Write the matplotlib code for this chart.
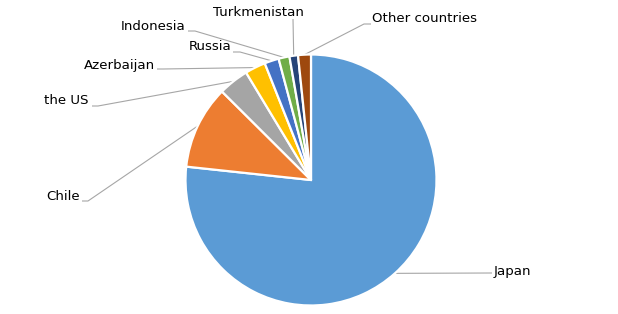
import numpy as np
import matplotlib
matplotlib.use("Agg")
import matplotlib.pyplot as plt

# share of each country (percent)
countries = ["Japan", "Chile", "the US", "Azerbaijan", "Russia",
             "Indonesia", "Turkmenistan", "Other countries"]
shares = [76.7, 10.75, 3.9, 2.65, 1.85, 1.4, 1.1, 1.65]
colors = ["#5B9BD5", "#ED7D31", "#A5A5A5", "#FFC000", "#4472C4",
          "#70AD47", "#264478", "#9E480E"]

W, H = 618, 314
CX, CY, R = 311, 180, 125.5


def px(x, y):
    # pixel position -> data coords (pie centre at 0,0, radius 1)
    return (x - CX) / R, (CY - y) / R


# label layout in pixels: (stub start, stub end, text pos, ha)
layout = {
    "Japan": ((492, 273), (492, 273), (494, 272), "left"),
    "Chile": ((88, 201), (82, 201), (80, 196), "right"),
    "the US": ((98, 106), (92, 106), (89, 101), "right"),
    "Azerbaijan": ((163, 69), (157, 69), (155, 65), "right"),
    "Russia": ((240, 52), (233, 52), (231, 47), "right"),
    "Indonesia": ((195, 31), (188, 31), (186, 26), "right"),
    "Turkmenistan": ((293, 19), (293, 19), (258, 12), "center"),
    "Other countries": ((364, 24), (371, 24), (372, 19), "left"),
}

fig = plt.figure(figsize=(W / 100, H / 100), dpi=100)
ax = fig.add_axes([0, 0, 1, 1])

wedges, _ = ax.pie(shares, colors=colors, startangle=90, counterclock=False,
                   radius=1, center=(0, 0), frame=True,
                   wedgeprops=dict(edgecolor="white", linewidth=1.6))

for w, name in zip(wedges, countries):
    mid = np.deg2rad((w.theta1 + w.theta2) / 2)
    sx, sy = np.cos(mid), np.sin(mid)
    stub0, stub1, pos, ha = layout[name]
    ex, ey = px(*stub0)
    tx, ty = px(*stub1)
    lx, ly = px(*pos)
    ax.plot([sx, ex, tx], [sy, ey, ty], color="#A6A6A6", lw=0.8,
            solid_capstyle="butt", zorder=0)
    ax.text(lx, ly, name, ha=ha, va="center", fontsize=9.6,
            family="DejaVu Sans", color="#000000")

ax.set_xlim(px(0, 0)[0], px(W, 0)[0])
ax.set_ylim(px(0, H)[1], px(0, 0)[1])
ax.set_aspect("auto")
ax.axis("off")

fig.savefig("out.png", dpi=100, facecolor="white")
